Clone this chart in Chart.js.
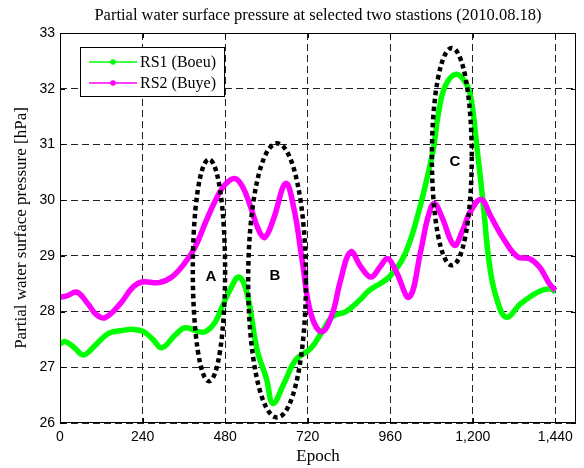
<!DOCTYPE html>
<html>
<head>
<meta charset="utf-8">
<script src="https://cdn.jsdelivr.net/npm/chart.js@4.4.1/dist/chart.umd.min.js"></script>
<style>
  html, body { margin: 0; padding: 0; background: #fff; }
  canvas { display: block; }
</style>
</head>
<body>
<canvas id="chart" width="584" height="468"></canvas>
<script>
// Partial water surface pressure, 2010-08-18, two stations
const seriesNames = ['RS1 (Boeu)', 'RS2 (Buye)'];

const rs1Epochs = [0, 15, 40, 68, 100, 141, 180, 214, 243, 270, 296, 335, 364, 403, 423, 450, 471, 495, 520, 544, 573, 600, 619, 651, 685, 729, 762, 792, 831, 870, 899, 930, 957, 990, 1015, 1044, 1083, 1100, 1120, 1152, 1180, 1195, 1212, 1230, 1248, 1268, 1297, 1341, 1389, 1423, 1440];
const rs1Values = [27.42, 27.46, 27.36, 27.22, 27.38, 27.61, 27.66, 27.68, 27.64, 27.50, 27.35, 27.58, 27.71, 27.64, 27.64, 27.80, 28.08, 28.40, 28.62, 28.32, 27.31, 26.80, 26.35, 26.71, 27.13, 27.34, 27.64, 27.91, 28.00, 28.20, 28.38, 28.50, 28.62, 28.88, 29.22, 29.82, 30.84, 31.55, 32.05, 32.26, 32.10, 31.82, 30.95, 29.95, 28.86, 28.26, 27.90, 28.15, 28.35, 28.41, 28.36];

const rs2Epochs = [0, 20, 49, 80, 105, 131, 179, 209, 238, 287, 325, 360, 393, 423, 452, 480, 508, 530, 554, 575, 595, 620, 656, 680, 704, 729, 761, 792, 815, 845, 875, 904, 930, 952, 975, 1015, 1049, 1070, 1088, 1110, 1146, 1170, 1190, 1224, 1253, 1292, 1331, 1365, 1394, 1423, 1440];
const rs2Values = [28.26, 28.28, 28.35, 28.15, 27.95, 27.89, 28.17, 28.42, 28.53, 28.52, 28.62, 28.85, 29.16, 29.60, 30.00, 30.28, 30.39, 30.25, 29.88, 29.50, 29.33, 29.65, 30.30, 29.85, 28.92, 27.97, 27.64, 27.97, 28.55, 29.07, 28.80, 28.62, 28.80, 28.95, 28.75, 28.26, 29.10, 29.70, 29.94, 29.70, 29.19, 29.45, 29.76, 30.01, 29.70, 29.28, 28.98, 28.95, 28.80, 28.50, 28.38];

const xTicks = [0, 240, 480, 720, 960, 1200, 1440];
const yTicks = [26, 27, 28, 29, 30, 31, 32, 33];

// Highlighted periods (A, B, C), expressed in epoch / hPa units
const regionNames = ['A', 'B', 'C'];
const regionEpoch = [433, 631, 1139];
const regionValue = [28.74, 28.56, 30.78];
const regionEpochHalfSpan = [47, 84, 58];
const regionValueHalfSpan = [1.99, 2.46, 1.95];
const regionLabelEpoch = [439, 625, 1148];
const regionLabelValue = [28.62, 28.64, 30.68];

const GREEN = '#00ff00';
const MAGENTA = '#ff00ff';
const SERIF = "'Liberation Serif', 'Times New Roman', serif";
const SANS = "'Liberation Sans', Arial, sans-serif";

const toPoints = (xs, ys) => xs.map((x, i) => ({ x, y: ys[i] }));

const decorations = {
  id: 'decorations',
  beforeDatasetsDraw(chart) {
    const { ctx, scales: { x, y } } = chart;
    ctx.save();
    ctx.font = 'bold 15px ' + SANS;
    ctx.textAlign = 'center';
    ctx.textBaseline = 'middle';
    regionNames.forEach((name, i) => {
      const px = x.getPixelForValue(regionLabelEpoch[i]);
      const py = y.getPixelForValue(regionLabelValue[i]);
      ctx.fillStyle = '#fff';
      ctx.fillRect(px - 14, py - 16, 28, 32);
      ctx.fillStyle = '#000';
      ctx.fillText(name, px, py);
    });
    ctx.restore();
  },
  afterDatasetsDraw(chart) {
    const { ctx, scales: { x, y } } = chart;
    ctx.save();
    ctx.strokeStyle = '#000';
    ctx.lineWidth = 4.5;
    ctx.setLineDash([4.5, 3.5]);
    ctx.lineCap = 'butt';
    regionNames.forEach((name, i) => {
      const cx = x.getPixelForValue(regionEpoch[i]);
      const cy = y.getPixelForValue(regionValue[i]);
      const rx = Math.abs(x.getPixelForValue(regionEpoch[i] + regionEpochHalfSpan[i]) - cx);
      const ry = Math.abs(y.getPixelForValue(regionValue[i] + regionValueHalfSpan[i]) - cy);
      ctx.beginPath();
      ctx.ellipse(cx, cy, rx, ry, 0, 0, Math.PI * 2);
      ctx.stroke();
    });
    ctx.restore();
  },
  afterDraw(chart) {
    const { ctx, chartArea: a, scales: { x, y } } = chart;
    ctx.save();
    ctx.setLineDash([]);
    ctx.strokeStyle = '#000';
    ctx.lineWidth = 1;

    // axes box
    ctx.strokeRect(Math.round(a.left) + 0.5, Math.round(a.top) + 0.5,
      Math.round(a.right - a.left) - 1, Math.round(a.bottom - a.top) - 1);

    // inward tick marks on all four sides
    const tl = 5;
    ctx.beginPath();
    xTicks.forEach(v => {
      const px = Math.round(x.getPixelForValue(v)) + 0.5;
      ctx.moveTo(px, a.bottom); ctx.lineTo(px, a.bottom - tl);
      ctx.moveTo(px, a.top); ctx.lineTo(px, a.top + tl);
    });
    yTicks.forEach(v => {
      const py = Math.round(y.getPixelForValue(v)) + 0.5;
      ctx.moveTo(a.left, py); ctx.lineTo(a.left + tl, py);
      ctx.moveTo(a.right, py); ctx.lineTo(a.right - tl, py);
    });
    ctx.stroke();

    // title and axis titles
    ctx.fillStyle = '#000';
    ctx.textAlign = 'center';
    ctx.textBaseline = 'alphabetic';
    const midX = (a.left + a.right) / 2;
    ctx.font = '16.5px ' + SERIF;
    ctx.fillText('Partial water surface pressure at selected two stastions (2010.08.18)', midX, 20);
    ctx.font = '17px ' + SERIF;
    ctx.textBaseline = 'middle';
    ctx.fillText('Epoch', midX, 457);
    ctx.save();
    ctx.translate(22, (a.top + a.bottom) / 2);
    ctx.rotate(-Math.PI / 2);
    ctx.fillText('Partial water surface pressure [hPa]', 0, 0);
    ctx.restore();

    // legend
    const lx = a.left + 20, ly = a.top + 14, lw = 144, lh = 49;
    ctx.fillStyle = '#fff';
    ctx.fillRect(lx, ly, lw, lh);
    ctx.strokeStyle = '#000';
    ctx.lineWidth = 1;
    ctx.strokeRect(lx + 0.5, ly + 0.5, lw, lh);
    const colors = [GREEN, MAGENTA];
    seriesNames.forEach((name, i) => {
      const ry = ly + 15 + i * 21;
      ctx.strokeStyle = colors[i];
      ctx.lineWidth = 1.5;
      ctx.beginPath();
      ctx.moveTo(lx + 9, ry); ctx.lineTo(lx + 57, ry);
      ctx.stroke();
      ctx.fillStyle = colors[i];
      ctx.beginPath();
      ctx.arc(lx + 33, ry, 2.8, 0, Math.PI * 2);
      ctx.fill();
      ctx.fillStyle = '#000';
      ctx.textAlign = 'left';
      ctx.textBaseline = 'middle';
      ctx.font = '16px ' + SERIF;
      ctx.fillText(name, lx + 60, ry + 1);
    });
    ctx.restore();
  }
};

new Chart(document.getElementById('chart'), {
  type: 'line',
  data: {
    datasets: [
      {
        label: seriesNames[0],
        data: toPoints(rs1Epochs, rs1Values),
        borderColor: GREEN,
        backgroundColor: GREEN,
        borderWidth: 5.5,
        pointRadius: 0,
        tension: 0.4,
        fill: false,
        order: 1
      },
      {
        label: seriesNames[1],
        data: toPoints(rs2Epochs, rs2Values),
        borderColor: MAGENTA,
        backgroundColor: MAGENTA,
        borderWidth: 5.5,
        pointRadius: 0,
        tension: 0.4,
        fill: false,
        order: 0
      }
    ]
  },
  options: {
    responsive: false,
    devicePixelRatio: 1,
    animation: false,
    layout: { padding: { top: 33, right: 8, left: 0, bottom: 0 } },
    plugins: {
      legend: { display: false },
      title: { display: false },
      tooltip: { enabled: false }
    },
    scales: {
      x: {
        type: 'linear',
        min: 0,
        max: 1500,
        afterBuildTicks: s => { s.ticks = xTicks.map(v => ({ value: v })); },
        afterFit: s => { s.height = 45; },
        ticks: {
          autoSkip: false,
          maxRotation: 0,
          padding: 6,
          color: '#000',
          font: { family: SANS, size: 14 },
          callback: v => Number(v).toLocaleString('en-US')
        },
        grid: { color: '#222', lineWidth: 1, drawTicks: false },
        border: { display: false, dash: [7, 4] }
      },
      y: {
        type: 'linear',
        min: 26,
        max: 33,
        afterBuildTicks: s => { s.ticks = yTicks.map(v => ({ value: v })); },
        afterFit: s => { s.width = 60; },
        ticks: {
          padding: 5,
          color: '#000',
          font: { family: SANS, size: 14 }
        },
        grid: { color: '#222', lineWidth: 1, drawTicks: false },
        border: { display: false, dash: [7, 4] }
      }
    }
  },
  plugins: [decorations]
});
</script>
</body>
</html>
